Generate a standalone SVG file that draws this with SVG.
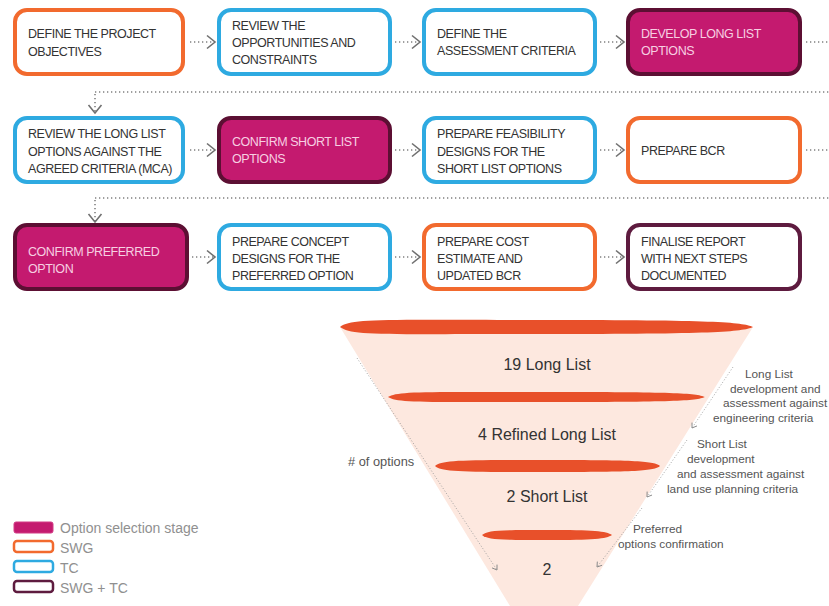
<svg xmlns="http://www.w3.org/2000/svg" width="829" height="606" viewBox="0 0 829 606">
<defs>
<style>
.box{fill:#fff;stroke-width:4}
.swg{stroke:#f26a2e}
.tc{stroke:#2eaae1}
.both{stroke:#5e1b3f}
.sel{fill:#c41a6f;stroke:#5c0f33;stroke-width:4}
.t{font-family:"Liberation Sans",Arial,sans-serif;font-size:12.5px;fill:#333;letter-spacing:-0.45px}
.tw{fill:#f7cfe2}
.dot{fill:none;stroke:#808080;stroke-width:1.6;stroke-dasharray:1.3 2.7}
.fdot{fill:none;stroke:#9a9a9a;stroke-width:0.9;stroke-dasharray:1 2}
.ft{font-family:"Liberation Sans",Arial,sans-serif;font-size:16px;fill:#333;text-anchor:middle}
.an{font-family:"Liberation Sans",Arial,sans-serif;font-size:11.8px;fill:#555}
.lg{font-family:"Liberation Sans",Arial,sans-serif;font-size:14px;fill:#909090}
.lip{fill:#e8502a}
</style>
<marker id="chev" markerUnits="userSpaceOnUse" markerWidth="12" markerHeight="16" refX="9" refY="7" orient="auto" overflow="visible">
<path d="M1,0.5 L9,7 L1,13.5" fill="none" stroke="#707070" stroke-width="1.6" stroke-dasharray="none"/>
</marker>
<marker id="small" markerUnits="userSpaceOnUse" markerWidth="8" markerHeight="8" refX="5" refY="3" orient="auto" overflow="visible">
<path d="M0.5,0 L5,3 L0.5,6" fill="none" stroke="#8a8a8a" stroke-width="0.9" stroke-dasharray="none"/>
</marker>
</defs>
<rect width="829" height="606" fill="#fff"/>

<g id="connectors">
<line class="dot" x1="190" y1="42" x2="215" y2="42" marker-end="url(#chev)"/>
<line class="dot" x1="395" y1="42" x2="420" y2="42" marker-end="url(#chev)"/>
<line class="dot" x1="600" y1="42" x2="624" y2="42" marker-end="url(#chev)"/>
<line class="dot" x1="806" y1="42" x2="829" y2="42"/>
<line class="dot" x1="95" y1="92" x2="829" y2="92"/>
<line class="dot" x1="95" y1="94" x2="95" y2="113" marker-end="url(#chev)"/>
<line class="dot" x1="190" y1="150" x2="215" y2="150" marker-end="url(#chev)"/>
<line class="dot" x1="395" y1="150" x2="420" y2="150" marker-end="url(#chev)"/>
<line class="dot" x1="600" y1="150" x2="624" y2="150" marker-end="url(#chev)"/>
<line class="dot" x1="806" y1="150" x2="829" y2="150"/>
<line class="dot" x1="95" y1="198" x2="829" y2="198"/>
<line class="dot" x1="95" y1="200" x2="95" y2="222" marker-end="url(#chev)"/>
<line class="dot" x1="192" y1="257" x2="215" y2="257" marker-end="url(#chev)"/>
<line class="dot" x1="395" y1="257" x2="420" y2="257" marker-end="url(#chev)"/>
<line class="dot" x1="600" y1="257" x2="624" y2="257" marker-end="url(#chev)"/>
</g>

<g id="n1"><rect class="box swg" x="15" y="10" width="168" height="64" rx="12"/>
<text class="t" x="28"><tspan x="28" y="38">DEFINE THE PROJECT</tspan><tspan x="28" y="56">OBJECTIVES</tspan></text></g>
<g id="n2"><rect class="box tc" x="219" y="10" width="171" height="64" rx="12"/>
<text class="t"><tspan x="232" y="30">REVIEW THE</tspan><tspan x="232" y="47">OPPORTUNITIES AND</tspan><tspan x="232" y="64">CONSTRAINTS</tspan></text></g>
<g id="n3"><rect class="box tc" x="424" y="10" width="171" height="64" rx="12"/>
<text class="t"><tspan x="437" y="38">DEFINE THE</tspan><tspan x="437" y="55">ASSESSMENT CRITERIA</tspan></text></g>
<g id="n4"><rect class="sel" x="628" y="10" width="172" height="64" rx="12"/>
<text class="t tw"><tspan x="641" y="38">DEVELOP LONG LIST</tspan><tspan x="641" y="55">OPTIONS</tspan></text></g>

<g id="n5"><rect class="box tc" x="15" y="118" width="168" height="64" rx="12"/>
<text class="t"><tspan x="28" y="138">REVIEW THE LONG LIST</tspan><tspan x="28" y="156">OPTIONS AGAINST THE</tspan><tspan x="28" y="173">AGREED CRITERIA (MCA)</tspan></text></g>
<g id="n6"><rect class="sel" x="219" y="118" width="171" height="64" rx="12"/>
<text class="t tw"><tspan x="232" y="146">CONFIRM SHORT LIST</tspan><tspan x="232" y="163">OPTIONS</tspan></text></g>
<g id="n7"><rect class="box tc" x="424" y="118" width="171" height="64" rx="12"/>
<text class="t"><tspan x="437" y="138">PREPARE FEASIBILITY</tspan><tspan x="437" y="156">DESIGNS FOR THE</tspan><tspan x="437" y="173">SHORT LIST OPTIONS</tspan></text></g>
<g id="n8"><rect class="box swg" x="628" y="118" width="172" height="64" rx="12"/>
<text class="t"><tspan x="641" y="155">PREPARE BCR</tspan></text></g>

<g id="n9"><rect class="sel" x="15" y="225" width="172" height="64" rx="12"/>
<text class="t tw"><tspan x="28" y="256">CONFIRM PREFERRED</tspan><tspan x="28" y="273">OPTION</tspan></text></g>
<g id="n10"><rect class="box tc" x="219" y="225" width="171" height="64" rx="12"/>
<text class="t"><tspan x="232" y="246">PREPARE CONCEPT</tspan><tspan x="232" y="263">DESIGNS FOR THE</tspan><tspan x="232" y="280">PREFERRED OPTION</tspan></text></g>
<g id="n11"><rect class="box swg" x="424" y="225" width="171" height="64" rx="12"/>
<text class="t"><tspan x="437" y="246">PREPARE COST</tspan><tspan x="437" y="263">ESTIMATE AND</tspan><tspan x="437" y="280">UPDATED BCR</tspan></text></g>
<g id="n12"><rect class="box both" x="628" y="225" width="172" height="64" rx="12"/>
<text class="t"><tspan x="641" y="246">FINALISE REPORT</tspan><tspan x="641" y="263">WITH NEXT STEPS</tspan><tspan x="641" y="280">DOCUMENTED</tspan></text></g>

<g id="funnel">
<polygon points="340,327 753,327 578,606 510,606" fill="#fde8df"/>
<path class="lip" d="M340,327 C352,318 380,320 546,320 C712,320 742,322 753,327 C742,332 712,334 546,334 C380,334 352,336 340,327 Z"/>
<path class="lip" d="M388,397 C398,391 420,392 546,392 C672,392 696,393 705,397 C696,401 672,402 546,402 C420,402 398,403 388,397 Z"/>
<path class="lip" d="M435,466 C442,460 460,460 548,460 C636,460 654,461 660,466 C654,471 636,472 548,472 C460,472 442,472 435,466 Z"/>
<path class="lip" d="M482,535 C488,530 500,530 547,530 C594,530 606,531 612,535 C606,539 594,540 547,540 C500,540 488,540 482,535 Z"/>
<text class="ft" x="547" y="370">19 Long List</text>
<text class="ft" x="547" y="440">4 Refined Long List</text>
<text class="ft" x="547" y="502">2 Short List</text>
<text class="ft" x="547" y="575">2</text>
</g>

<g id="funnel-arrows">
<line class="fdot" x1="357" y1="358" x2="497" y2="570" marker-end="url(#small)"/>
<line class="fdot" x1="733" y1="367" x2="692" y2="428" marker-end="url(#small)"/>
<line class="fdot" x1="687" y1="440" x2="647" y2="497" marker-end="url(#small)"/>
<line class="fdot" x1="642" y1="508" x2="597" y2="567" marker-end="url(#small)"/>
</g>

<g id="annotations">
<text class="an" x="348" y="466" style="font-size:12.8px"># of options</text>
<text class="an" x="745" y="378">Long List</text>
<text class="an" x="730" y="393">development and</text>
<text class="an" x="723" y="407">assessment against</text>
<text class="an" x="713" y="422">engineering criteria</text>
<text class="an" x="697" y="448">Short List</text>
<text class="an" x="687" y="463">development</text>
<text class="an" x="677" y="478">and assessment against</text>
<text class="an" x="667" y="493">land use planning criteria</text>
<text class="an" x="633" y="533">Preferred</text>
<text class="an" x="618" y="548">options confirmation</text>
</g>

<g id="legend">
<rect x="14" y="522" width="39" height="11" rx="2" fill="#c41a6f" stroke="#d23a85" stroke-width="1"/>
<rect x="14" y="541" width="39" height="11" rx="3" fill="#fff" stroke="#f26a2e" stroke-width="2.5"/>
<rect x="14" y="561" width="39" height="11" rx="3" fill="#fff" stroke="#2eaae1" stroke-width="2.5"/>
<rect x="14" y="581" width="39" height="11" rx="3" fill="#fff" stroke="#5e1b3f" stroke-width="2.5"/>
<text class="lg" x="60" y="533">Option selection stage</text>
<text class="lg" x="60" y="553">SWG</text>
<text class="lg" x="60" y="573">TC</text>
<text class="lg" x="60" y="593">SWG + TC</text>
</g>
</svg>
